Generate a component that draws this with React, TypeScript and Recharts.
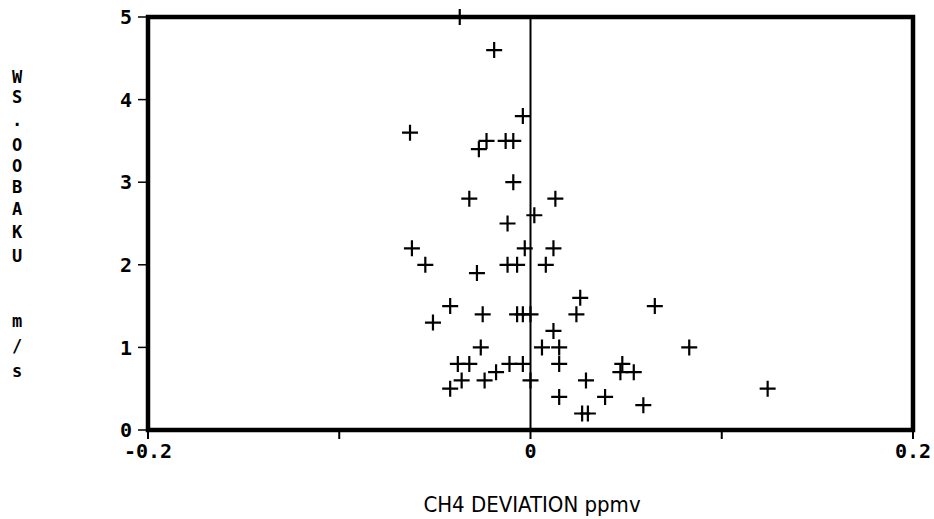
import React from "react";
import {
  ScatterChart,
  Scatter,
  XAxis,
  YAxis,
  ReferenceLine,
  ReferenceArea,
} from "recharts";

const ch4Deviation = [
  -0.037, -0.019, -0.004, -0.063, -0.023, -0.027, -0.013, -0.009, -0.009, -0.032,
  0.013, 0.002, -0.012, -0.062, -0.003, 0.012, -0.055, -0.012, -0.007, 0.008,
  -0.028, -0.042, -0.051, -0.025, -0.007, -0.004, 0.0, 0.026, 0.024, 0.065,
  0.012, -0.026, 0.006, 0.015, 0.083, -0.038, -0.032, -0.011, -0.004, 0.015,
  0.048, 0.047, 0.054, -0.018, -0.036, -0.024, 0.0, 0.029, -0.042, 0.124,
  0.015, 0.039, 0.059, 0.027, 0.03,
];
const windSpeed = [
  5.0, 4.6, 3.8, 3.6, 3.5, 3.4, 3.5, 3.5, 3.0, 2.8,
  2.8, 2.6, 2.5, 2.2, 2.2, 2.2, 2.0, 2.0, 2.0, 2.0,
  1.9, 1.5, 1.3, 1.4, 1.4, 1.4, 1.4, 1.6, 1.4, 1.5,
  1.2, 1.0, 1.0, 1.0, 1.0, 0.8, 0.8, 0.8, 0.8, 0.8,
  0.8, 0.7, 0.7, 0.7, 0.6, 0.6, 0.6, 0.6, 0.5, 0.5,
  0.4, 0.4, 0.3, 0.2, 0.2,
];
const xTicks = [-0.2, -0.1, 0, 0.1, 0.2];
const xTickLabels = ["-0.2", "", "0", "", "0.2"];
const yTicks = [0, 1, 2, 3, 4, 5];
const yLabelChars = ["W", "S", ".", "O", "O", "B", "A", "K", "U", "m", "/", "s"];
const yLabelPos = [78, 98, 121, 146, 167, 188, 210, 233, 257, 322, 347, 372];
const xTitle = "CH4 DEVIATION ppmv";

const data = ch4Deviation.map((x, i) => ({ x, y: windSpeed[i] }));

const Plus = (props: any) => {
  const { cx, cy } = props;
  if (cx == null || cy == null) return null;
  const a = 8;
  return (
    <path
      d={`M${cx - a},${cy}H${cx + a}M${cx},${cy - a}V${cy + a}`}
      stroke="#000"
      strokeWidth={2.2}
      fill="none"
    />
  );
};

const mono = "'DejaVu Sans Mono', monospace";

export default function App() {
  return (
    <div style={{ position: "absolute", left: 0, top: 0, background: "#fff" }}>
      <ScatterChart
        width={934}
        height={519}
        margin={{ top: 17, right: 21, bottom: 0, left: 0 }}
      >
        <XAxis
          type="number"
          dataKey="x"
          domain={[-0.2, 0.2]}
          ticks={xTicks}
          tickFormatter={(v: number) => xTickLabels[xTicks.indexOf(v)] ?? ""}
          height={89}
          axisLine={false}
          tickLine={{ stroke: "#000", strokeWidth: 2 }}
          tickSize={9}
          tickMargin={5}
          tick={{ fill: "#000", fontFamily: mono, fontSize: 20, fontWeight: "bold" }}
          interval={0}
        />
        <YAxis
          type="number"
          dataKey="y"
          domain={[0, 5]}
          ticks={yTicks}
          width={148}
          axisLine={false}
          tickLine={{ stroke: "#000", strokeWidth: 1.5 }}
          tickSize={10}
          tickMargin={6}
          tick={{ fill: "#000", fontFamily: mono, fontSize: 20, fontWeight: "bold" }}
          interval={0}
        />
        <ReferenceArea
          x1={-0.2}
          x2={0.2}
          y1={0}
          y2={5}
          fill="none"
          stroke="#000"
          strokeWidth={4.5}
          ifOverflow="visible"
        />
        <ReferenceLine x={0} stroke="#000" strokeWidth={2} />
        <Scatter data={data} shape={<Plus />} isAnimationActive={false} />
      </ScatterChart>
      <svg
        width={934}
        height={519}
        style={{ position: "absolute", left: 0, top: 0, pointerEvents: "none" }}
      >
        {yLabelChars.map((c, i) => (
          <text
            key={i}
            x={17}
            y={yLabelPos[i]}
            textAnchor="middle"
            dominantBaseline="middle"
            fontFamily={mono}
            fontSize={17}
            fontWeight="bold"
            fill="#000"
          >
            {c}
          </text>
        ))}
        <text
          x={532}
          y={506}
          textAnchor="middle"
          dominantBaseline="middle"
          fontFamily="'DejaVu Sans Condensed', 'DejaVu Sans', sans-serif"
          fontSize={22}
          fill="#000"
        >
          {xTitle}
        </text>
      </svg>
    </div>
  );
}
